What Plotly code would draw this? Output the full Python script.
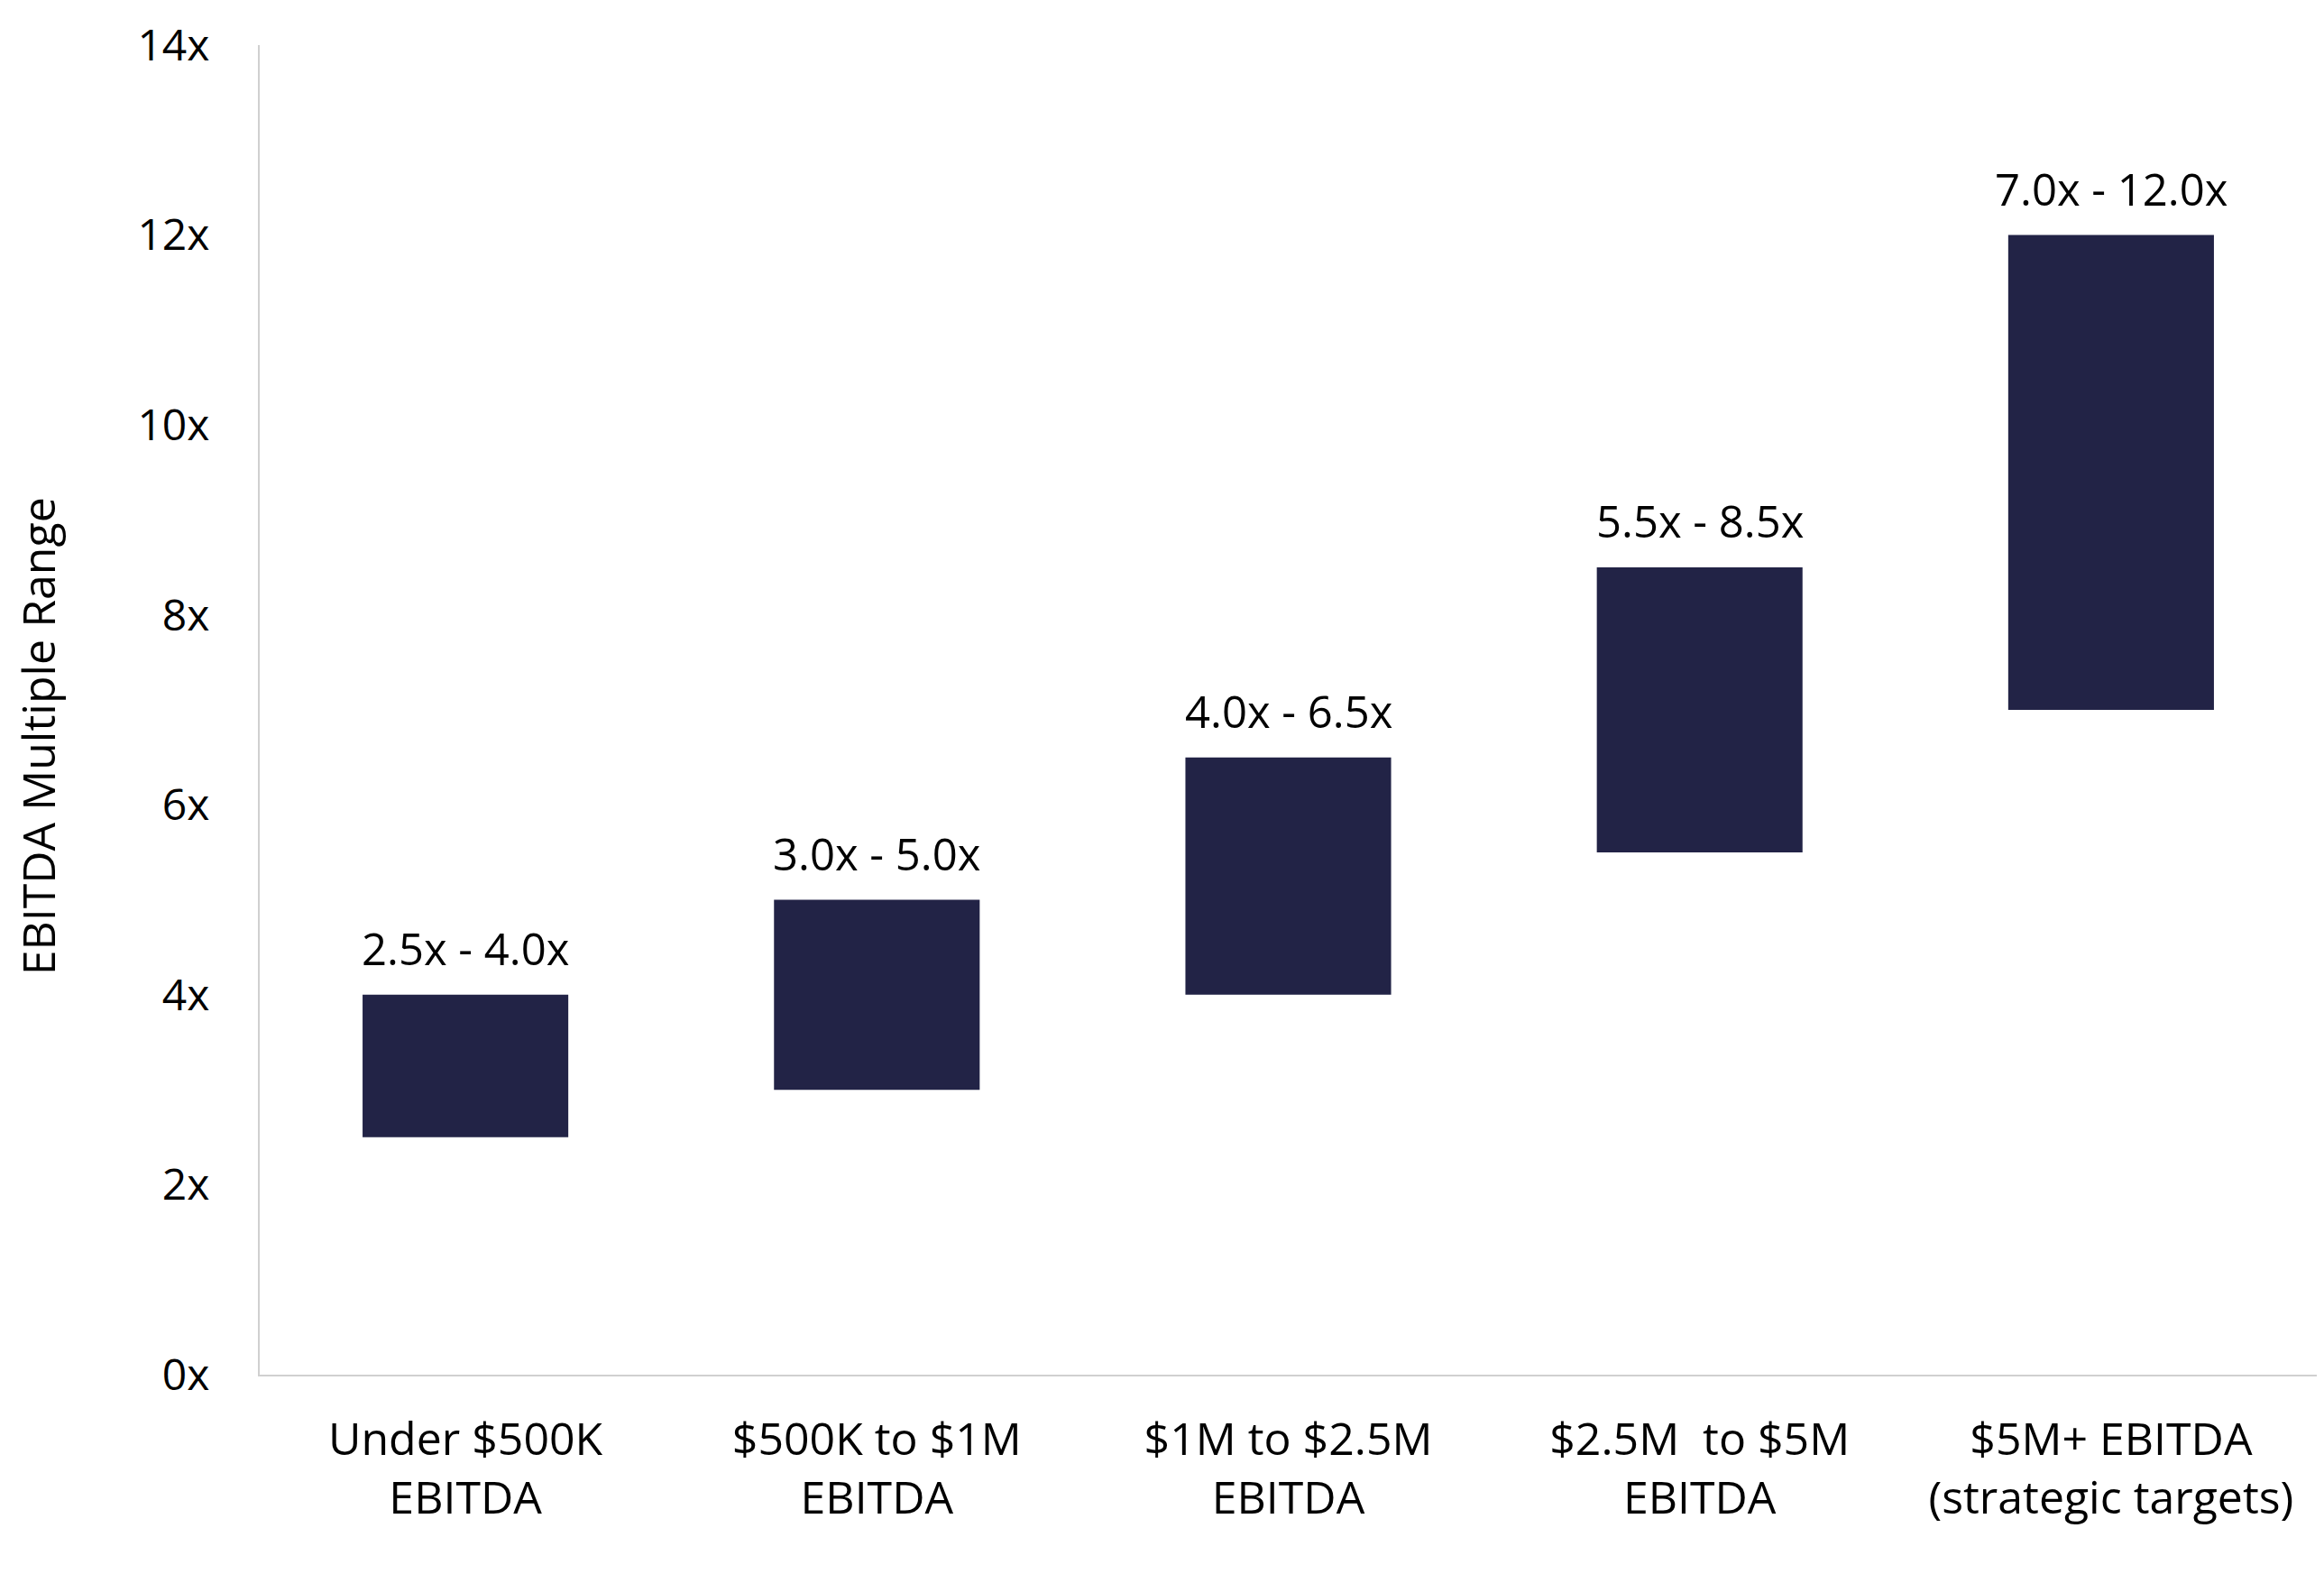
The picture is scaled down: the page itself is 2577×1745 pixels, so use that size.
import plotly.graph_objects as go

# EBITDA size bands and their multiple ranges
categories = ['Under $500K<br>EBITDA', '$500K to $1M<br>EBITDA', '$1M to $2.5M<br>EBITDA',
              '$2.5M\u00a0 to $5M<br>EBITDA', '$5M+ EBITDA<br>(strategic targets)']
low_multiple = [2.5, 3.0, 4.0, 5.5, 7.0]
high_multiple = [4.0, 5.0, 6.5, 8.5, 12.0]
tick_values = [0, 2, 4, 6, 8, 10, 12, 14]
tick_labels = ['0x', '2x', '4x', '6x', '8x', '10x', '12x', '14x']

bar_color = '#222346'
font_main = 'Open Sans'

range_text = [f'{lo:.1f}x - {hi:.1f}x' for lo, hi in zip(low_multiple, high_multiple)]

# Floating bars: base at low multiple, height up to high multiple
fig = go.Figure(data=[
    go.Bar(
        x=categories,
        y=[hi - lo for lo, hi in zip(low_multiple, high_multiple)],
        base=low_multiple,
        marker_color=bar_color,
        marker_line_width=0,
        hoverinfo='skip'
    )
])

# Range labels above each bar
for cat, hi, txt in zip(categories, high_multiple, range_text):
    fig.add_annotation(x=cat, y=hi, text=txt, showarrow=False, yanchor='middle', yshift=52,
                       font=dict(family=font_main, size=49, color='#000000'))

fig.add_annotation(text='EBITDA Multiple Range', xref='paper', yref='paper', x=-0.1075, y=0.48,
                   textangle=-90, showarrow=False, xanchor='center', yanchor='middle',
                   font=dict(family='Open Sans', size=50, color='#000000'))

fig.update_layout(
    plot_bgcolor='white',
    paper_bgcolor='white',
    bargap=0.5,
    showlegend=False,
    margin=dict(l=280, r=0, t=42, b=213),
    font=dict(family=font_main, size=48, color='#000000'),
    xaxis=dict(showgrid=False, showline=True, linecolor='#d0d0d0', linewidth=2,
               ticks='', ticklabelstandoff=27, tickfont=dict(size=50)),
    yaxis=dict(range=[0, 14], tickvals=tick_values, ticktext=tick_labels, showgrid=False,
               zeroline=False, showline=True, linecolor='#d0d0d0', linewidth=2,
               ticks='', ticklabelstandoff=44, tickfont=dict(size=48))
)

fig.write_html("out.html")
